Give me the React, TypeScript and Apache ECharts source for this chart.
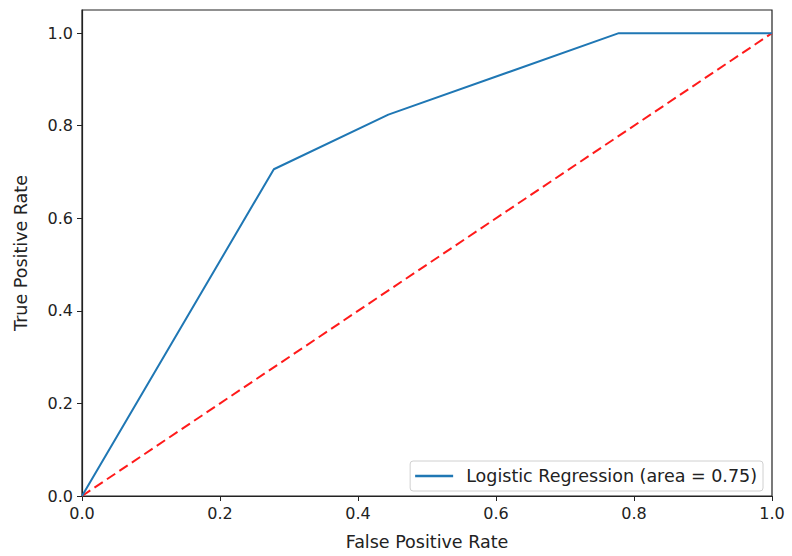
import React, { useEffect, useRef } from "react";
import * as echarts from "echarts";

const fpr = [0, 0.278, 0.444, 0.778, 1.0];
const tpr = [0, 0.706, 0.824, 1.0, 1.0];
const diagX = [0, 1];
const diagY = [0, 1];
const tickValues = [0, 0.2, 0.4, 0.6, 0.8, 1.0];
const seriesName = "Logistic Regression (area = 0.75)";

const FONT = "DejaVu Sans";

export default function App() {
  const ref = useRef<HTMLDivElement>(null);
  useEffect(() => {
    if (!ref.current) return;
    const chart = echarts.init(ref.current, undefined, { renderer: "svg" });
    const axisCommon = {
      type: "value",
      axisLine: { show: true, lineStyle: { color: "#222", width: 1.2 } },
      axisTick: { show: true, inside: false, length: 5, lineStyle: { color: "#222" }, customValues: tickValues },
      axisLabel: {
        color: "#222",
        fontFamily: FONT,
        fontSize: 16,
        margin: 9,
        customValues: tickValues,
        formatter: (v: number) => v.toFixed(1),
      },
      splitLine: { show: false },
      nameLocation: "middle",
      nameTextStyle: { color: "#222", fontFamily: FONT, fontSize: 17.5 },
    };
    chart.setOption({
      animation: false,
      backgroundColor: "#fff",
      grid: {
        left: 82,
        right: 20,
        top: 10,
        bottom: 56,
        show: true,
        borderColor: "#222",
        borderWidth: 1.2,
        containLabel: false,
      },
      legend: {
        right: 29,
        bottom: 65,
        orient: "horizontal",
        data: [{ name: seriesName, icon: "rect" }],
        itemWidth: 38,
        itemHeight: 2.5,
        itemGap: 10,
        padding: [6, 6, 6, 5],
        borderColor: "#d0d0d0",
        borderWidth: 1,
        borderRadius: 3,
        backgroundColor: "#fff",
        textStyle: { color: "#222", fontFamily: FONT, fontSize: 17.5, padding: [0, 0, 0, 8] },
      },
      xAxis: {
        ...axisCommon,
        min: 0,
        max: 1,
        name: "False Positive Rate",
        nameGap: 37,
      },
      yAxis: {
        ...axisCommon,
        min: 0,
        max: 1.05,
        name: "True Positive Rate",
        nameGap: 52,
      },
      series: [
        {
          name: seriesName,
          type: "line",
          data: fpr.map((x, i) => [x, tpr[i]]),
          showSymbol: false,
          symbol: "none",
          lineStyle: { color: "#1f77b4", width: 2 },
          itemStyle: { color: "#1f77b4" },
          z: 3,
        },
        {
          name: "diag",
          type: "line",
          data: diagX.map((x, i) => [x, diagY[i]]),
          showSymbol: false,
          symbol: "none",
          lineStyle: { color: "#ff1a1a", width: 2, type: [10, 5] },
          z: 2,
        },
      ],
    });
    return () => chart.dispose();
  }, []);
  return <div ref={ref} style={{ width: 792, height: 556, position: "absolute", left: 0, top: 0 }} />;
}
